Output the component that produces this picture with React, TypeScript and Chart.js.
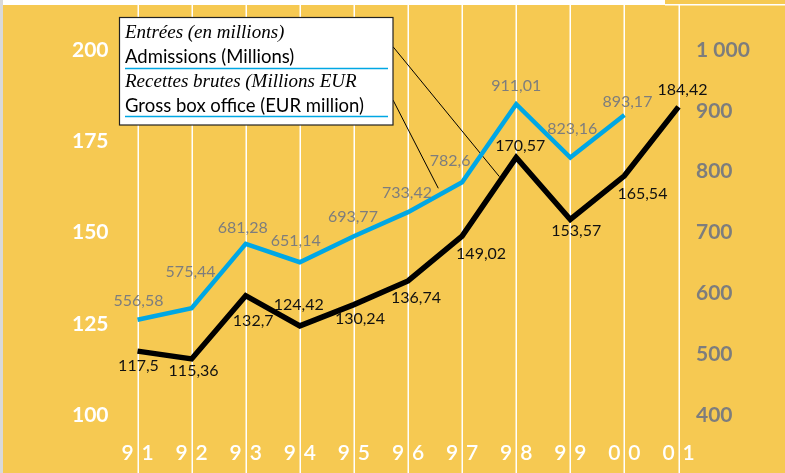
import React, { useEffect, useRef } from 'react';
import { Chart, registerables } from 'chart.js';

Chart.register(...registerables);

// ---- data ----
const years = ['91', '92', '93', '94', '95', '96', '97', '98', '99', '00', '01'];
const admissions = [117.5, 115.36, 132.7, 124.42, 130.24, 136.74, 149.02, 170.57, 153.57, 165.54, 184.42];
const boxOffice = [556.58, 575.44, 681.28, 651.14, 693.77, 733.42, 782.6, 911.01, 823.16, 893.17, null];
const leftMin = 100;
const leftMax = 200;
const leftStep = 25;
const rightMin = 400;
const rightMax = 1000;
const rightStep = 100;
const legendLines = [
  'Entrées (en millions)',
  'Admissions (Millions)',
  'Recettes brutes (Millions EUR',
  'Gross box office (EUR million)',
];

// ---- label placement (pixels offset from the point) ----
const admissionsLabelOffsets = [
  [1, 15], [2, 12], [7.5, 25], [-1, -21], [6, 14.5], [8, 16.5], [19, 18], [4, -11.5], [6, 11.5], [18, 18], [4, -17],
];
const boxOfficeLabelOffsets = [
  [1, -19], [-1, -36], [-3, -16], [-4, -21], [-1, -19], [-1, -19], [-12, -21], [0, -18], [2, -29], [3, -13.5],
];
// leader line targets (fractional category index, value on axis)
const leaderTargets = [
  { from: 46.7, index: 6.69, value: 165.3, axis: 'y' },
  { from: 100, index: 5.56, value: 772.7, axis: 'y1' },
];

const YELLOW = '#F6C952';
const BLUE = '#00A7E4';
const GREY = '#7d7d7d';

const fmt = (v: number) => String(v).replace('.', ',');
const thousands = (v: number) => String(v).replace(/\B(?=(\d{3})+(?!\d))/g, ' ');

const decorPlugin = {
  id: 'decor',
  beforeDraw(chart: any) {
    const { ctx, width, height } = chart;
    ctx.save();
    ctx.fillStyle = YELLOW;
    ctx.fillRect(0, 0, width, height);
    ctx.fillStyle = '#ffffff';
    ctx.fillRect(0, 0, 665, 5);
    ctx.fillRect(665, 4, width - 665, 1.5);
    ctx.fillStyle = '#d9d9d9';
    ctx.fillRect(0, 0, 3, height);
    // vertical white grid
    const xs = chart.scales.x;
    ctx.strokeStyle = '#ffffff';
    ctx.lineWidth = 1.5;
    years.forEach((_, i) => {
      const x = Math.round(xs.getPixelForValue(i)) + 0.25;
      ctx.beginPath();
      ctx.moveTo(x, 5);
      ctx.lineTo(x, height);
      ctx.stroke();
    });
    ctx.restore();
  },
  beforeDatasetsDraw(chart: any) {
    const { ctx } = chart;
    const xs = chart.scales.x;
    ctx.save();
    ctx.strokeStyle = '#000';
    ctx.lineWidth = 1;
    leaderTargets.forEach((t) => {
      const x = xs.getPixelForValue(t.index);
      const y = chart.scales[t.axis].getPixelForValue(t.value);
      ctx.beginPath();
      ctx.moveTo(393, t.from);
      ctx.lineTo(x, y);
      ctx.stroke();
    });
    ctx.restore();
  },
  afterDatasetsDraw(chart: any) {
    const { ctx } = chart;
    const xs = chart.scales.x;
    ctx.save();
    ctx.font = '16px Lato';
    ctx.textAlign = 'center';
    ctx.textBaseline = 'middle';
    ctx.fillStyle = GREY;
    boxOffice.forEach((v, i) => {
      if (v == null) return;
      const x = xs.getPixelForValue(i) + boxOfficeLabelOffsets[i][0];
      const y = chart.scales.y1.getPixelForValue(v) + boxOfficeLabelOffsets[i][1];
      ctx.fillText(fmt(v), x, y);
    });
    ctx.fillStyle = '#111';
    admissions.forEach((v, i) => {
      const x = xs.getPixelForValue(i) + admissionsLabelOffsets[i][0];
      const y = chart.scales.y.getPixelForValue(v) + admissionsLabelOffsets[i][1];
      ctx.fillText(fmt(v), x, y);
    });

    // legend box
    const bx = 119.5, by = 17.5, bw = 273.5, bh = 107.5;
    ctx.fillStyle = '#ffffff';
    ctx.fillRect(bx, by, bw, bh);
    ctx.strokeStyle = '#222';
    ctx.lineWidth = 1.2;
    ctx.strokeRect(bx, by, bw, bh);
    ctx.textAlign = 'left';
    ctx.textBaseline = 'alphabetic';
    ctx.fillStyle = '#000';
    ctx.font = 'italic 19px "Liberation Serif"';
    ctx.fillText(legendLines[0], 125, 38);
    ctx.fillText(legendLines[2], 125, 87);
    ctx.font = '18.5px Lato';
    ctx.fillText(legendLines[1], 125, 63);
    ctx.fillText(legendLines[3], 125, 111.5);
    ctx.strokeStyle = BLUE;
    ctx.lineWidth = 1.5;
    [68.5, 116.5].forEach((y) => {
      ctx.beginPath();
      ctx.moveTo(125, y);
      ctx.lineTo(388, y);
      ctx.stroke();
    });
    ctx.restore();
  },
};

export default function App() {
  const ref = useRef<HTMLCanvasElement>(null);
  useEffect(() => {
    if (!ref.current) return;
    const chart = new Chart(ref.current, {
      type: 'line',
      data: {
        labels: years,
        datasets: [
          {
            label: legendLines[3],
            data: boxOffice,
            yAxisID: 'y1',
            borderColor: BLUE,
            borderWidth: 4.5,
            pointRadius: 0,
            borderJoinStyle: 'miter',
            tension: 0,
            spanGaps: false,
          },
          {
            label: legendLines[1],
            data: admissions,
            yAxisID: 'y',
            borderColor: '#000',
            borderWidth: 5.5,
            pointRadius: 0,
            borderJoinStyle: 'miter',
            tension: 0,
          },
        ],
      },
      options: {
        responsive: false,
        animation: false,
        layout: { padding: { top: 50, left: 0, right: 0, bottom: 0 } },
        plugins: { legend: { display: false }, tooltip: { enabled: false } },
        scales: {
          x: {
            type: 'category',
            offset: false,
            border: { display: false },
            grid: { display: false, drawTicks: false },
            ticks: {
              color: '#ffffff',
              font: { family: 'Lato', size: 21, weight: '600' },
              padding: 26,
              autoSkip: false,
              maxRotation: 0,
              callback: (_v: any, i: number) => years[i].split('').join(' \u2009'),
            },
            afterFit: (s: any) => { s.height = 58; },
          },
          y: {
            position: 'left',
            min: leftMin,
            max: leftMax,
            border: { display: false },
            grid: { display: false, drawTicks: false },
            ticks: {
              stepSize: leftStep,
              color: '#ffffff',
              font: { family: 'Lato', size: 21, weight: 'bold' },
              padding: 29,
            },
            afterFit: (s: any) => { s.width = 137.5; },
          },
          y1: {
            position: 'right',
            min: rightMin,
            max: rightMax,
            border: { display: false },
            grid: { display: false, drawTicks: false },
            ticks: {
              stepSize: rightStep,
              color: GREY,
              font: { family: 'Lato', size: 21, weight: 'bold' },
              padding: 17.5,
              callback: (v: any) => thousands(Number(v)),
            },
            afterFit: (s: any) => { s.width = 106.5; },
          },
        },
      },
      plugins: [decorPlugin],
    } as any);
    return () => chart.destroy();
  }, []);
  return (
    <div style={{ position: 'fixed', left: 0, top: 0, width: 785, height: 473 }}>
      <canvas ref={ref} width={785} height={473} />
    </div>
  );
}
